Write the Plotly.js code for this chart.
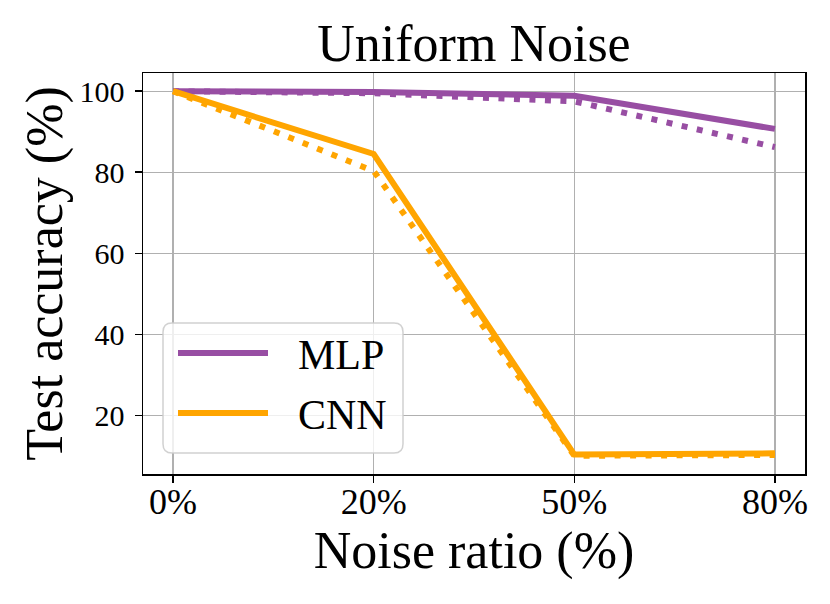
<!DOCTYPE html>
<html><head><meta charset="utf-8">
<script src="https://cdn.plot.ly/plotly-3.0.1.min.js"></script>
<style>body{margin:0;background:#fff}#chart{width:830px;height:604px}</style>
</head><body><div id="chart"></div>
<script>
// ---- data ----
const noiseRatios = ['0%', '20%', '50%', '80%'];
const mlpSolid  = [100, 99.8, 98.9, 90.7];
const mlpDotted = [100, 99.5, 97.5, 86.2];
const cnnSolid  = [100, 84.5, 10.3, 10.6];
const cnnDotted = [100, 80.3, 10.0, 10.2];
const seriesNames = ['MLP', 'CNN'];
const seriesColors = ['#984ea3', '#ffa500'];
const yTickVals = [20, 40, 60, 80, 100];

// ---- layout constants ----
const W = 830, H = 604;
const M = {l: 143, r: 25, t: 73, b: 130};
const PW = W - M.l - M.r, PH = H - M.t - M.b;
const FONT = 'Liberation Serif, Times New Roman, serif';

function px2x(px) { return (px - M.l) / PW; }
function px2y(py) { return (H - M.b - py) / PH; }

const dotDash = '6px,9.5px';
const traces = [
  {x: noiseRatios, y: mlpSolid, name: seriesNames[0], mode: 'lines',
   line: {color: seriesColors[0], width: 6}, showlegend: false},
  {x: noiseRatios, y: mlpDotted, name: seriesNames[0] + ' (dotted)', mode: 'lines',
   line: {color: seriesColors[0], width: 6, dash: dotDash}, showlegend: false},
  {x: noiseRatios, y: cnnSolid, name: seriesNames[1], mode: 'lines',
   line: {color: seriesColors[1], width: 6}, showlegend: false},
  {x: noiseRatios, y: cnnDotted, name: seriesNames[1] + ' (dotted)', mode: 'lines',
   line: {color: seriesColors[1], width: 6, dash: dotDash}, showlegend: false}
];

// legend box (rounded) in paper coords
const bx0 = 163, bx1 = 403, by0 = 323, by1 = 453, rr = 9;
const rx = rr / PW, ry = rr / PH;
const X0 = px2x(bx0), X1 = px2x(bx1), Y0 = px2y(by1), Y1 = px2y(by0);
const legendPath = `M ${X0 + rx} ${Y1} L ${X1 - rx} ${Y1} Q ${X1} ${Y1} ${X1} ${Y1 - ry} ` +
  `L ${X1} ${Y0 + ry} Q ${X1} ${Y0} ${X1 - rx} ${Y0} L ${X0 + rx} ${Y0} Q ${X0} ${Y0} ${X0} ${Y0 + ry} ` +
  `L ${X0} ${Y1 - ry} Q ${X0} ${Y1} ${X0 + rx} ${Y1} Z`;

const legendRows = [353, 413];
const shapes = [{
  type: 'path', xref: 'paper', yref: 'paper', path: legendPath, layer: 'above',
  fillcolor: 'rgba(255,255,255,0.8)', line: {color: 'rgba(204,204,204,0.9)', width: 1.5}
}];
const annotations = [];
seriesNames.forEach((nm, i) => {
  shapes.push({type: 'line', xref: 'paper', yref: 'paper', layer: 'above',
    x0: px2x(178), x1: px2x(268), y0: px2y(legendRows[i]), y1: px2y(legendRows[i]),
    line: {color: seriesColors[i], width: 6}});
  annotations.push({xref: 'paper', yref: 'paper', x: px2x(296), y: px2y(legendRows[i] + 2),
    xanchor: 'left', yanchor: 'middle', text: nm, showarrow: false,
    font: {family: FONT, size: 42, color: '#000'}});
});

const axisCommon = {
  showline: true, mirror: true, linecolor: '#000', linewidth: 1.5,
  ticks: 'outside', ticklen: 7, tickwidth: 1.5, tickcolor: '#000',
  showgrid: true, gridcolor: '#b0b0b0', gridwidth: 1.3, zeroline: false
};

const layout = {
  width: W, height: H, margin: M,
  paper_bgcolor: '#fff', plot_bgcolor: '#fff',
  font: {family: FONT, color: '#000'},
  title: {text: 'Uniform Noise', font: {family: FONT, size: 52, color: '#000'},
    x: 474 / W, xanchor: 'center', xref: 'container',
    y: 1 - 43 / H, yanchor: 'middle', yref: 'container'},
  xaxis: Object.assign({}, axisCommon, {
    type: 'category', range: [-0.15, 3.15],
    tickfont: {family: FONT, size: 36}, ticklabelstandoff: -12,
    title: {text: 'Noise ratio (%)', font: {family: FONT, size: 52}, standoff: 0}
  }),
  yaxis: Object.assign({}, axisCommon, {
    range: [5.5, 104.5], tickvals: yTickVals, ticktext: yTickVals.map(String),
    tickfont: {family: FONT, size: 30}, ticklabelstandoff: 4,
    title: {text: 'Test accuracy (%)', font: {family: FONT, size: 52}, standoff: 0}
  }),
  shapes: shapes, annotations: annotations, showlegend: false
};

Plotly.newPlot('chart', traces, layout, {displayModeBar: false, staticPlot: true});
</script></body></html>
